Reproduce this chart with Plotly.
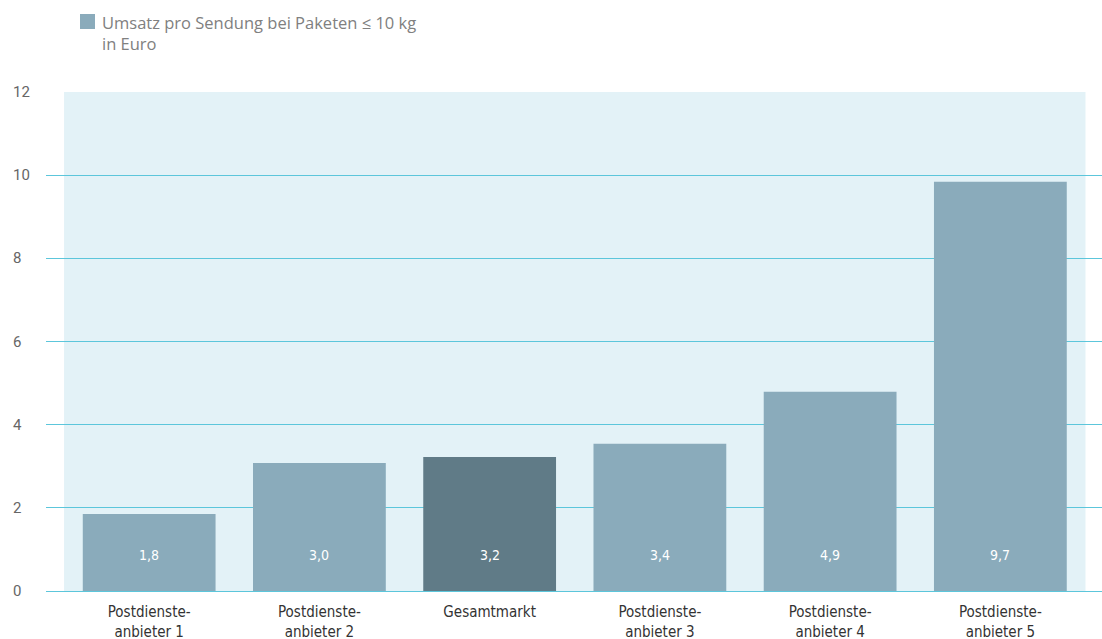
import plotly.graph_objects as go

categories = ["Postdienste-<br>anbieter 1", "Postdienste-<br>anbieter 2", "Gesamtmarkt",
              "Postdienste-<br>anbieter 3", "Postdienste-<br>anbieter 4", "Postdienste-<br>anbieter 5"]
values = [1.85, 3.08, 3.22, 3.54, 4.79, 9.84]
value_labels = ["1,8", "3,0", "3,2", "3,4", "4,9", "9,7"]
y_ticks = [0, 2, 4, 6, 8, 10, 12]
legend_text = "Umsatz pro Sendung bei Paketen ≤ 10 kg<br>in Euro"

LIGHT = "#8aabbb"
DARK = "#607b87"
GRID = "#5cc6db"
BG = "#e3f2f7"
COND = "Liberation Sans Narrow, DejaVu Sans Condensed, Arial Narrow, sans-serif"
SANS = "Roboto, Helvetica Neue, Arial, sans-serif"

colors = [DARK if c == "Gesamtmarkt" else LIGHT for c in categories]

fig = go.Figure()
fig.add_trace(go.Bar(x=list(range(len(categories))), y=values, marker=dict(color=colors, line=dict(width=0)),
                     width=0.78, showlegend=False, hoverinfo="skip"))

# background panel over the category domain
fig.add_shape(type="rect", xref="x", yref="y", x0=-0.5, x1=len(categories) - 0.5, y0=0, y1=12,
              fillcolor=BG, line=dict(width=0), layer="below")

for i, lab in enumerate(value_labels):
    fig.add_annotation(x=i, y=0.87, xref="x", yref="y", text=lab, showarrow=False,
                       font=dict(family=COND, size=14, color="white"))

for t in y_ticks:
    fig.add_annotation(x=-0.0332, y=t, xref="paper", yref="y", text=str(t), showarrow=False,
                       xanchor="left", yanchor="middle", font=dict(family=SANS, size=15, color="#666666"))

# legend
fig.add_shape(type="rect", xref="paper", yref="paper", x0=(80 - 46) / 1056, x1=(95 - 46) / 1056,
              y0=1 + (92 - 29) / 499, y1=1 + (92 - 14) / 499, fillcolor=LIGHT, line=dict(width=0))
fig.add_annotation(x=(100 - 46) / 1056, y=1 + (92 - 9) / 499, xref="paper", yref="paper",
                   text=legend_text, showarrow=False, xanchor="left", yanchor="top", align="left",
                   font=dict(family="Open Sans, sans-serif", size=16.5, color="#808080"))

fig.update_layout(
    width=1102, height=639,
    margin=dict(l=46, r=0, t=92, b=48, autoexpand=False),
    plot_bgcolor="white", paper_bgcolor="white",
    bargap=0.22,
    xaxis=dict(range=[-0.606, 5.597], tickmode="array", tickvals=list(range(len(categories))),
               ticktext=categories, showgrid=False, zeroline=False, showline=False,
               ticks="outside", ticklen=7, tickcolor="rgba(0,0,0,0)", automargin=False,
               tickfont=dict(family=COND, size=15, color="#333333"), fixedrange=True),
    yaxis=dict(range=[0, 12], tickvals=y_ticks, showticklabels=False, showgrid=True,
               gridcolor=GRID, gridwidth=1, zeroline=True, zerolinecolor=GRID, zerolinewidth=1,
               showline=False, fixedrange=True, automargin=False),
)

fig.write_html("out.html")
